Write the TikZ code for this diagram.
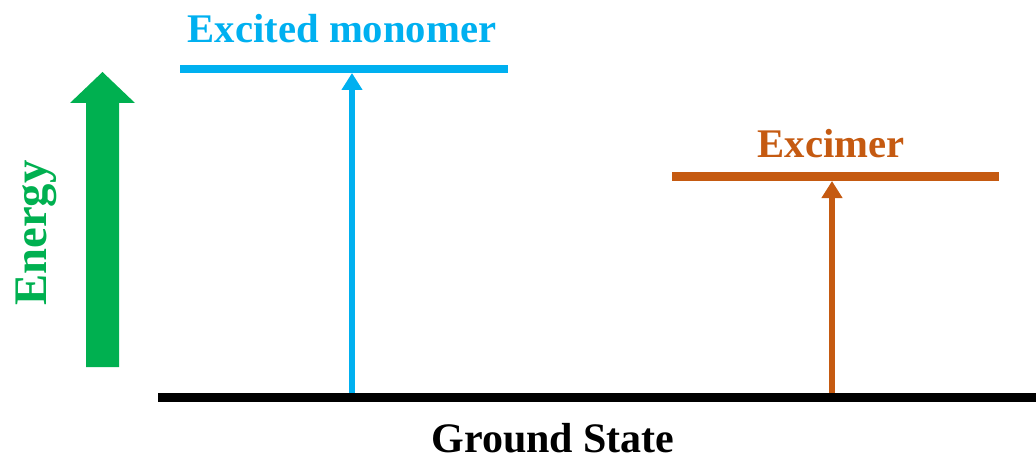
\documentclass[tikz,border=0pt]{standalone}
\usepackage{fontspec}
\setmainfont{Liberation Serif}
\usetikzlibrary{arrows.meta}
\definecolor{mblue}{HTML}{00B0F0}
\definecolor{morange}{HTML}{C55A11}
\definecolor{mgreen}{HTML}{00B050}
\tikzset{
  lbl/.style={font=\fontsize{30.5}{36}\selectfont\bfseries, anchor=base, inner sep=0pt},
  level/.style={line width=6.3pt},
  transition/.style={line width=4.5pt, -{Triangle[width=15pt,length=12.75pt]}},
}
\begin{document}
\begin{tikzpicture}[x=0.75pt,y=-0.75pt]
\useasboundingbox (0,0) rectangle (1036,460);
% coordinates
\coordinate (gl) at (158,397);
\coordinate (gr) at (1036,397);
\coordinate (ml) at (180,69);
\coordinate (mr) at (508,69);
\coordinate (el) at (672,176.5);
\coordinate (er) at (999,176.5);
\coordinate (mb) at (352,397);
\coordinate (mt) at (352,73);
\coordinate (eb) at (832,397);
\coordinate (et) at (832,181);
% green energy arrow
\fill[mgreen] (86,367) -- (86,103) -- (70,103) -- (102.5,72) -- (135,103) -- (119,103) -- (119,367) -- cycle;
\node[lbl, text=mgreen, rotate=90, font=\fontsize{35}{40}\selectfont\bfseries] (energy) at (46,233) {Energy};
% transitions
\draw[transition, mblue] (mb) -- (mt);
\draw[transition, morange] (eb) -- (et);
% levels
\draw[level, mblue] (ml) -- (mr);
\draw[level, morange, line width=6.75pt] (el) -- (er);
\draw[level, black, line width=6.75pt] (gl) -- (gr);
% labels
\node[lbl, text=black, font=\fontsize{31.5}{38}\selectfont\bfseries] (glabel) at (553,452) {Ground State};
\node[lbl, text=mblue] (mlabel) at (342,43) {Excited monomer};
\node[lbl, text=morange] (elabel) at (831,157) {Excimer};
\end{tikzpicture}
\end{document}
